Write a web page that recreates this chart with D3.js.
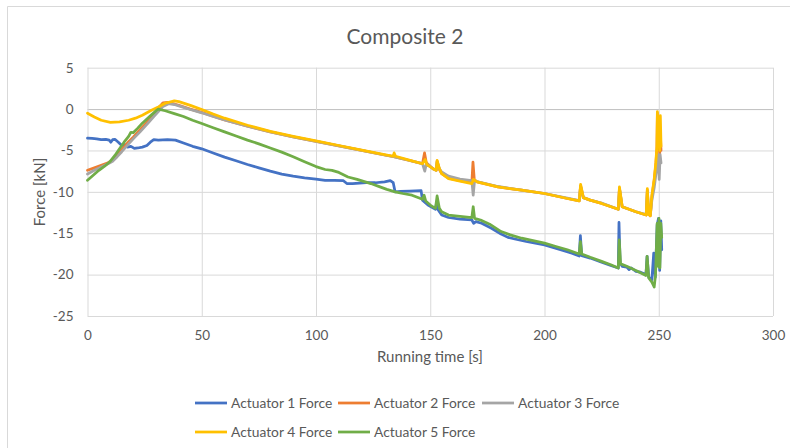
<!DOCTYPE html>
<html><head><meta charset="utf-8">
<script src="https://cdn.jsdelivr.net/npm/d3@7"></script>
<style>
body{margin:0;background:#fff;}
svg{display:block;font-family:Lato,"Open Sans",sans-serif;}
</style></head>
<body><svg id="c" width="790" height="448"></svg>
<script>
const seriesNames = ["Actuator 1 Force","Actuator 2 Force","Actuator 3 Force","Actuator 4 Force","Actuator 5 Force"];
const seriesColors = ["#4472C4","#ED7D31","#A5A5A5","#FFC000","#70AD47"];
const xTicks = [0,50,100,150,200,250,300];
const yTicks = [-25,-20,-15,-10,-5,0,5];

const act1 = [[0,-3.5],[2,-3.55],[4,-3.6],[6,-3.7],[8,-3.65],[9.5,-3.75],[10.2,-4.0],[11,-3.7],[12,-3.65],[13.5,-4.0],[15,-4.4],[16.5,-4.3],[17.5,-4.6],[19,-4.5],[20.5,-4.75],[22,-4.7],[24,-4.6],[26,-4.4],[27.5,-4.0],[29,-3.7],[31,-3.75],[35,-3.7],[38.5,-3.75],[42,-4.1],[46,-4.5],[50,-4.8],[55,-5.3],[60,-5.8],[65,-6.25],[70,-6.7],[75,-7.1],[80,-7.5],[85,-7.85],[90,-8.1],[95,-8.3],[100,-8.45],[104,-8.6],[108,-8.6],[112,-8.65],[113.5,-9.0],[116,-9.0],[119,-8.95],[122,-8.9],[126,-8.9],[130,-8.8],[132.5,-8.65],[133.8,-8.9],[134.6,-10.0],[137,-9.95],[141,-9.9],[146,-9.85],[146.6,-11.0],[149,-11.6],[152.3,-12.1],[152.8,-11.2],[153.5,-12.2],[155,-12.8],[158,-13.1],[163,-13.3],[168.2,-13.4],[169,-13.8],[170,-13.6],[172.5,-13.8],[176.8,-14.4],[181,-15.1],[184,-15.5],[187,-15.7],[192,-16.0],[200,-16.4],[207,-17.0],[212,-17.4],[215.2,-17.75],[215.7,-15.3],[216.3,-17.7],[220,-18.0],[225,-18.5],[229,-18.9],[232.3,-19.2],[232.6,-13.7],[233.1,-18.6],[234,-19.0],[236,-19.1],[237,-19.4],[238,-19.2],[240,-19.6],[242,-19.7],[244.4,-20.0],[244.9,-17.8],[245.6,-20.3],[247,-20.6],[247.8,-17.4],[248.5,-20.3],[249.3,-14.0],[249.9,-13.2],[250.4,-19.5],[250.9,-13.5],[251.3,-17.0]];

const act2 = [[0,-7.4],[3,-7.1],[6,-6.8],[9,-6.5],[11,-6.1],[13,-5.5],[15,-4.9],[18,-3.95],[20,-3.4],[23,-2.5],[26,-1.6],[29,-0.6],[31,0.1],[33,0.75],[35,0.8],[37,0.7],[40,0.45],[45,0.0],[50,-0.4],[55,-0.85],[60,-1.3],[70,-2.05],[80,-2.75],[90,-3.35],[100,-3.9],[110,-4.45],[120,-5.0],[130,-5.55],[134,-5.75],[140,-6.15],[146.6,-6.6],[147.5,-5.3],[148.3,-6.5],[151.2,-7.2],[152.6,-7.4],[153,-6.3],[154,-7.3],[155,-7.8],[158,-8.35],[163,-8.65],[168.2,-8.9],[168.7,-6.4],[169.3,-8.6],[170.5,-8.8],[179.6,-9.4],[190,-9.8],[200,-10.2],[210,-10.8],[215.2,-11.1],[215.8,-9.3],[217,-10.7],[220,-11.0],[225,-11.4],[232.3,-12.1],[232.8,-9.6],[234,-11.8],[240,-12.4],[244.5,-12.8],[245,-9.8],[245.6,-12.7],[246.3,-12.9],[247,-10.6],[248,-8.6],[248.7,-6.8],[249.2,-4.8],[249.4,-0.5],[249.8,-4.5],[250.1,-1.5],[250.4,-5.5],[250.7,-3.0],[251,-5.0]];

const act3 = [[0,-7.85],[3,-7.4],[6,-7.0],[9,-6.6],[11,-6.3],[13,-5.75],[15,-5.15],[18,-4.2],[20,-3.6],[23,-2.75],[26,-1.85],[29,-0.9],[31,-0.3],[33,0.3],[35.5,0.65],[38,0.55],[41,0.3],[45,-0.05],[50,-0.45],[55,-0.9],[60,-1.3],[70,-2.05],[80,-2.75],[90,-3.35],[100,-3.9],[110,-4.45],[120,-5.0],[130,-5.55],[134,-5.75],[140,-6.15],[146.6,-6.6],[147.6,-7.5],[148.3,-6.6],[151.2,-7.2],[152.6,-7.4],[153,-6.4],[154,-7.2],[155,-7.6],[158,-8.1],[163,-8.45],[168.2,-8.65],[168.8,-10.4],[169.4,-8.6],[170.5,-8.75],[179.6,-9.35],[190,-9.8],[200,-10.2],[210,-10.75],[215.2,-11.05],[215.8,-9.3],[217,-10.7],[220,-11.0],[225,-11.35],[232.3,-12.1],[232.8,-9.6],[234,-11.8],[240,-12.4],[244.5,-12.75],[245,-10.0],[245.6,-12.6],[246.3,-12.8],[247,-11.0],[248,-9.5],[248.7,-8.0],[249.3,-7.0],[249.8,-5.5],[250.2,-8.5],[250.6,-5.5],[251,-6.5]];

const act4 = [[0,-0.5],[3,-0.95],[6,-1.35],[10,-1.6],[14,-1.55],[18,-1.35],[21,-1.1],[24,-0.75],[28,-0.15],[31,0.25],[34,0.7],[38,1.0],[40,0.9],[45,0.45],[50,-0.05],[55,-0.6],[60,-1.1],[70,-1.95],[80,-2.7],[90,-3.3],[100,-3.85],[110,-4.4],[120,-4.95],[130,-5.5],[133.8,-5.7],[134.2,-5.3],[134.8,-5.7],[140,-6.1],[146.6,-6.6],[147.8,-6.1],[148.5,-6.7],[151.2,-7.2],[152.6,-7.4],[153,-6.2],[154,-7.2],[155,-7.8],[158,-8.4],[163,-8.7],[168.2,-9.0],[168.9,-8.5],[170.5,-8.8],[179.6,-9.4],[190,-9.8],[200,-10.2],[210,-10.8],[215.2,-11.1],[215.8,-9.1],[217,-10.7],[220,-11.0],[225,-11.4],[232.3,-12.1],[232.8,-9.4],[234,-11.8],[240,-12.4],[244.5,-12.8],[245,-9.6],[245.6,-12.7],[246.3,-12.9],[247,-10.4],[248,-8.5],[248.7,-6.5],[249.2,-4.5],[249.4,-0.3],[249.8,-4.0],[250.1,-1.0],[250.4,-5.0],[250.7,-0.8],[251,-4.5]];

const act5 = [[0,-8.6],[2.5,-8.0],[5,-7.4],[7.5,-6.9],[10,-6.3],[12,-5.6],[14,-4.8],[16,-4.0],[18,-3.3],[19,-2.8],[20,-2.85],[22,-2.3],[24,-1.7],[26,-1.2],[28,-0.7],[30,-0.2],[31,0.0],[34,-0.2],[38,-0.55],[42,-0.9],[46,-1.35],[50,-1.75],[55,-2.25],[60,-2.75],[65,-3.25],[70,-3.75],[75,-4.2],[80,-4.7],[85,-5.2],[90,-5.75],[95,-6.35],[100,-6.95],[104,-7.3],[107,-7.4],[110,-7.65],[114,-8.2],[118,-8.5],[124,-9.0],[128,-9.4],[131,-9.7],[134.6,-10.0],[138,-10.2],[142,-10.4],[146.6,-10.9],[147.3,-10.4],[148,-11.1],[150.5,-11.7],[152.3,-12.0],[153.0,-10.5],[154,-12.0],[155,-12.4],[158,-12.8],[163,-12.95],[168.2,-13.1],[168.8,-11.8],[169.4,-13.2],[172,-13.4],[176,-13.9],[181,-14.8],[185,-15.2],[190,-15.6],[195,-15.9],[200,-16.2],[205,-16.6],[210,-17.0],[215.2,-17.5],[215.7,-16.0],[216.3,-17.5],[220,-17.9],[225,-18.4],[229,-18.8],[232.3,-19.2],[232.7,-15.8],[233.3,-18.7],[236,-19.0],[240,-19.5],[244.4,-20.1],[244.9,-17.8],[245.6,-20.4],[247,-20.9],[248,-21.5],[248.6,-20.0],[249.3,-13.8],[249.7,-19.0],[250.1,-13.2],[250.5,-19.2],[250.9,-13.8],[251.3,-15.5]];

const allSeries = [act1, act2, act3, act4, act5];

const svg = d3.select("#c");
const L = 87.5, R = 773, T = 67.7, B = 316;
const x = d3.scaleLinear().domain([0,300]).range([L,R]);
const y = d3.scaleLinear().domain([-25,5]).range([B,T]);

// outer chart frame
svg.append("path").attr("d","M7.5,448 V6.5 H790").attr("fill","none").attr("stroke","#d9d9d9").attr("stroke-width",1);

// gridlines
const gy = svg.append("g").attr("transform",`translate(${L},0)`)
  .call(d3.axisLeft(y).tickValues(yTicks).tickSize(-(R-L)).tickFormat(""));
gy.select(".domain").remove();
gy.selectAll("line").attr("stroke","#d9d9d9").attr("stroke-width",1);
gy.selectAll(".tick").filter(d=>d===0).select("line").attr("stroke","#bfbfbf");

const gx = svg.append("g").attr("transform",`translate(0,${B})`)
  .call(d3.axisBottom(x).tickValues(xTicks).tickSize(-(B-T)).tickFormat(""));
gx.select(".domain").remove();
gx.selectAll("line").attr("stroke","#d9d9d9").attr("stroke-width",1);

// tick labels
const ly = svg.append("g").attr("transform",`translate(${L},0)`)
  .call(d3.axisLeft(y).tickValues(yTicks).tickSize(0).tickPadding(14).tickFormat(d=>String(d)));
ly.select(".domain").remove();
ly.selectAll("text").attr("fill","#595959").style("font-size","13.5px").style("font-family","Lato,sans-serif");

const lx = svg.append("g").attr("transform",`translate(0,${B})`)
  .call(d3.axisBottom(x).tickValues(xTicks).tickSize(0).tickPadding(14).tickFormat(d=>String(d)));
lx.select(".domain").remove();
lx.selectAll("text").attr("fill","#595959").style("font-size","13.5px").style("font-family","Lato,sans-serif");

// lines
const line = d3.line().x(d=>x(d[0])).y(d=>y(d[1]));
allSeries.forEach((s,i)=>{
  svg.append("path").datum(s).attr("d",line)
    .attr("fill","none").attr("stroke",seriesColors[i]).attr("stroke-width",2.75)
    .attr("stroke-linejoin","round").attr("stroke-linecap","round");
});

// titles
svg.append("text").attr("x",405).attr("y",44).attr("text-anchor","middle")
  .attr("fill","#595959").style("font-size","21px").text("Composite 2");
svg.append("text").attr("x",430).attr("y",362).attr("text-anchor","middle")
  .attr("fill","#595959").style("font-size","15px").text("Running time [s]");
svg.append("text").attr("transform","translate(45,192) rotate(-90)").attr("text-anchor","middle")
  .attr("fill","#595959").style("font-size","15px").text("Force [kN]");

// legend
const legPos = [[195,403],[338,403],[482,403],[195,432],[338,432]];
seriesNames.forEach((n,i)=>{
  const [lx0,ly0] = legPos[i];
  svg.append("line").attr("x1",lx0).attr("x2",lx0+32).attr("y1",ly0).attr("y2",ly0)
    .attr("stroke",seriesColors[i]).attr("stroke-width",2.75);
  svg.append("text").attr("x",lx0+36).attr("y",ly0).attr("dy","0.35em")
    .attr("fill","#595959").style("font-size","13.8px").text(n);
});
</script></body></html>
